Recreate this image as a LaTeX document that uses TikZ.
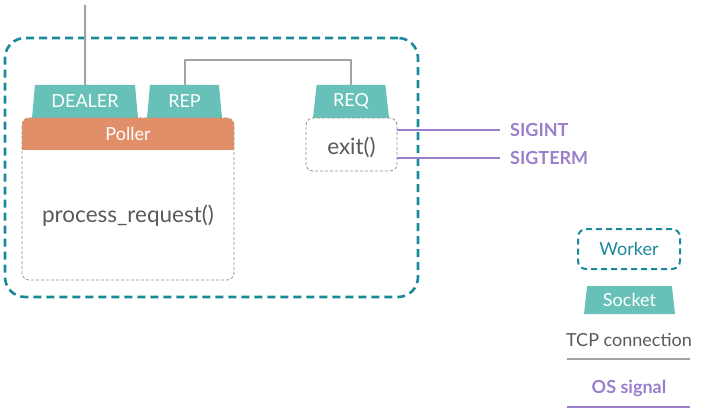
\documentclass[tikz,border=0pt]{standalone}
\usepackage{fontspec}
\setmainfont{Lato}
\usetikzlibrary{shapes.geometric}

\definecolor{workerteal}{HTML}{1A8A9A}
\definecolor{sockteal}{HTML}{68C1B8}
\definecolor{pollerorange}{HTML}{E08F68}
\definecolor{sigpurple}{HTML}{9A80CA}
\definecolor{tcpgray}{HTML}{A3A3A3}
\definecolor{txtgray}{HTML}{5A5A5A}
\definecolor{boxgray}{HTML}{909090}

\tikzset{
	workerbox/.style={draw=workerteal, line width=2.6pt, dash pattern=on 8pt off 5pt, rounded corners=20pt, inner sep=0pt},
	socket/.style={trapezium, trapezium stretches body, fill=sockteal, text=white, inner sep=0pt, trapezium left angle=77, trapezium right angle=77, font=\fontsize{18}{20}\selectfont},
	funcbox/.style={draw=boxgray, line width=0.8pt, dash pattern=on 3pt off 2pt, rounded corners=7pt, inner sep=0pt},
	functext/.style={text=txtgray, font=\fontsize{22.5}{26}\selectfont},
	tcp/.style={draw=tcpgray, line width=2pt},
	sig/.style={draw=sigpurple, line width=1.8pt},
	sigtext/.style={text=sigpurple, font=\bfseries\fontsize{18}{20}\selectfont, inner sep=0pt},
	legendtext/.style={font=\fontsize{18}{20}\selectfont}
}

\begin{document}
\begin{tikzpicture}[x=1pt, y=-1pt]
		\useasboundingbox (0,0) rectangle (702,417);

		% worker
		\node (worker)[workerbox, minimum width=413pt, minimum height=259pt] at (211.5,167.5) {};

		% sockets
		\node (dealer)[socket, minimum width=106pt, minimum height=33pt] at (85,101.5) {DEALER};
		\node (rep)[socket, minimum width=75pt, minimum height=33pt] at (184.5,101.5) {REP};
		\node (req)[socket, minimum width=76pt, minimum height=33pt] at (351,101.5) {REQ};

		% poller and functions
		\node (proc)[funcbox, minimum width=212pt, minimum height=162pt] at (128,199) {};
		\node (poller)[fill=pollerorange, rounded corners=7pt, minimum width=212pt, minimum height=32pt, inner sep=0pt] at (128,134) {};
		\fill[pollerorange] (poller.west) rectangle (poller.south east);
		\node (pollername)[text=white, legendtext] at (128,134) {Poller};
		\node (procname)[functext] at (128,216) {process\_request()};
		\node (exit)[funcbox, minimum width=91pt, minimum height=53pt] at (351.5,144.5) {};
		\node (exitname)[functext] at (351.5,147) {exit()};

		% tcp connections
		\coordinate (up) at (85,5);
		\draw[tcp] (up) -- (dealer.north);
		\draw[tcp] (rep.north) -- ++(0,-25) -| (req.north);

		% signals
		\node (sigint)[sigtext, anchor=west] at (510,130) {SIGINT};
		\node (sigterm)[sigtext, anchor=west] at (510,158) {SIGTERM};
		\draw[sig] (exit.east |- sigint.west) -- ([xshift=-10pt]sigint.west);
		\draw[sig] (exit.east |- sigterm.west) -- ([xshift=-10pt]sigterm.west);

		% legend
		\node (legworker)[draw=workerteal, line width=2pt, dash pattern=on 6pt off 4pt, rounded corners=8pt, minimum width=102pt, minimum height=40pt, text=workerteal, legendtext] at (629,249) {Worker};
		\node (legsocket)[socket, minimum width=91pt, minimum height=28pt] at (629.5,300) {Socket};
		\node (legtcp)[legendtext, text=txtgray] at (629,340) {TCP connection};
		\coordinate (tcpA) at (567,359);
		\coordinate (tcpB) at (690,359);
		\draw[tcp] (tcpA) -- (tcpB);
		\node (legsig)[sigtext] at (629,388) {OS signal};
		\coordinate (sigA) at (567,407);
		\coordinate (sigB) at (690,407);
		\draw[sig] (sigA) -- (sigB);
	\end{tikzpicture}
\end{document}
